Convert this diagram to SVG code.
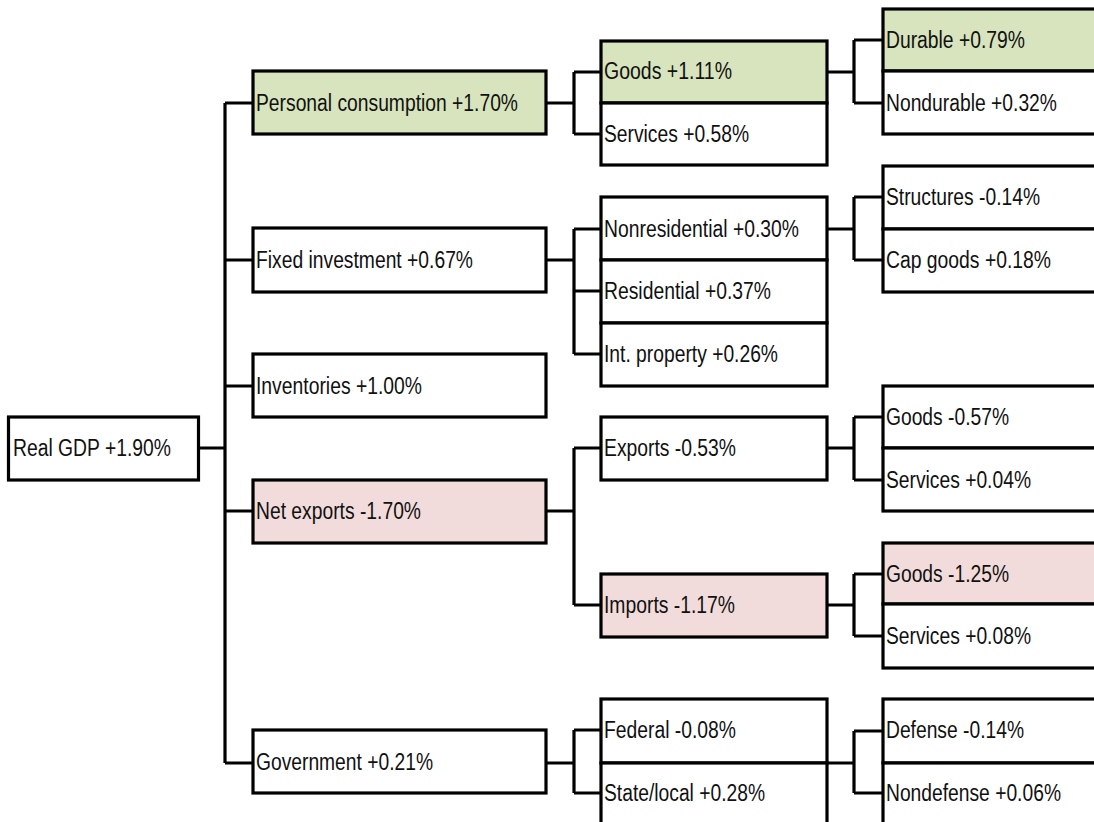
<svg xmlns="http://www.w3.org/2000/svg" width="1094" height="822" viewBox="0 0 1094 822">
<style>
.box{fill:#ffffff;stroke:#000;stroke-width:3.2}
.green{fill:#d7e4bd}
.pink{fill:#f2dcdb}
.lbl{font-family:"Liberation Sans",Arial,sans-serif;font-size:23px;fill:#111}
.con{fill:none;stroke:#000;stroke-width:3.2}
</style>
<rect x="0" y="0" width="1094" height="822" fill="#ffffff"/>
<g id="connectors" class="con">
<path d="M198,448 H225 M225,103 V763 M225,103 H253 M225,260 H253 M225,386 H253 M225,511 H253 M225,763 H253"/>
<path d="M546,103 H574 M574,72 V134 M574,72 H601 M574,134 H601"/>
<path d="M546,260 H574 M574,229 V354 M574,229 H601 M574,291 H601 M574,354 H601"/>
<path d="M546,511 H574 M574,448 V605 M574,448 H601 M574,605 H601"/>
<path d="M546,763 H574 M574,730 V793 M574,730 H601 M574,793 H601"/>
<path d="M827,72 H854 M854,40 V103 M854,40 H883 M854,103 H883"/>
<path d="M827,229 H854 M854,197 V260 M854,197 H883 M854,260 H883"/>
<path d="M827,448 H854 M854,417 V480 M854,417 H883 M854,480 H883"/>
<path d="M827,605 H854 M854,574 V636 M854,574 H883 M854,636 H883"/>
<path d="M827,763 H854 M854,731 V793 M854,731 H883 M854,793 H883"/>
</g>
<g id="n-gdp"><rect class="box" x="8.5" y="417" width="190" height="63"/><text class="lbl" x="13" y="456" textLength="158" lengthAdjust="spacingAndGlyphs">Real GDP +1.90%</text></g>
<g id="n-pc"><rect class="box green" x="253" y="71" width="293" height="63"/><text class="lbl" x="256" y="111" textLength="262" lengthAdjust="spacingAndGlyphs">Personal consumption +1.70%</text></g>
<g id="n-fi"><rect class="box" x="253" y="228" width="293" height="64"/><text class="lbl" x="256" y="268" textLength="217" lengthAdjust="spacingAndGlyphs">Fixed investment +0.67%</text></g>
<g id="n-inv"><rect class="box" x="253" y="354" width="293" height="63"/><text class="lbl" x="256" y="394" textLength="166" lengthAdjust="spacingAndGlyphs">Inventories +1.00%</text></g>
<g id="n-ne"><rect class="box pink" x="253" y="480" width="293" height="63"/><text class="lbl" x="256" y="519" textLength="165" lengthAdjust="spacingAndGlyphs">Net exports -1.70%</text></g>
<g id="n-gov"><rect class="box" x="253" y="730" width="293" height="63"/><text class="lbl" x="256" y="770" textLength="177" lengthAdjust="spacingAndGlyphs">Government +0.21%</text></g>
<g id="n-goods"><rect class="box green" x="601" y="41" width="226" height="62"/><text class="lbl" x="604" y="79" textLength="128" lengthAdjust="spacingAndGlyphs">Goods +1.11%</text></g>
<g id="n-services"><rect class="box" x="601" y="103" width="226" height="62"/><text class="lbl" x="604" y="142" textLength="145" lengthAdjust="spacingAndGlyphs">Services +0.58%</text></g>
<g id="n-nonres"><rect class="box" x="601" y="197" width="226" height="63"/><text class="lbl" x="604" y="237" textLength="195" lengthAdjust="spacingAndGlyphs">Nonresidential +0.30%</text></g>
<g id="n-res"><rect class="box" x="601" y="260" width="226" height="63"/><text class="lbl" x="604" y="299" textLength="167" lengthAdjust="spacingAndGlyphs">Residential +0.37%</text></g>
<g id="n-ip"><rect class="box" x="601" y="323" width="226" height="63"/><text class="lbl" x="604" y="362" textLength="174" lengthAdjust="spacingAndGlyphs">Int. property +0.26%</text></g>
<g id="n-exports"><rect class="box" x="601" y="417" width="226" height="63"/><text class="lbl" x="604" y="456" textLength="132" lengthAdjust="spacingAndGlyphs">Exports -0.53%</text></g>
<g id="n-imports"><rect class="box pink" x="601" y="574" width="226" height="63"/><text class="lbl" x="604" y="613" textLength="131" lengthAdjust="spacingAndGlyphs">Imports -1.17%</text></g>
<g id="n-federal"><rect class="box" x="601" y="699" width="226" height="64"/><text class="lbl" x="604" y="738" textLength="132" lengthAdjust="spacingAndGlyphs">Federal -0.08%</text></g>
<g id="n-state"><rect class="box" x="601" y="763" width="226" height="70"/><text class="lbl" x="604" y="801" textLength="161" lengthAdjust="spacingAndGlyphs">State/local +0.28%</text></g>
<g id="n-durable"><rect class="box green" x="883" y="9" width="230" height="62"/><text class="lbl" x="886" y="48" textLength="139" lengthAdjust="spacingAndGlyphs">Durable +0.79%</text></g>
<g id="n-nondurable"><rect class="box" x="883" y="71" width="230" height="63"/><text class="lbl" x="886" y="111" textLength="171" lengthAdjust="spacingAndGlyphs">Nondurable +0.32%</text></g>
<g id="n-structures"><rect class="box" x="883" y="166" width="230" height="63"/><text class="lbl" x="886" y="205" textLength="154" lengthAdjust="spacingAndGlyphs">Structures -0.14%</text></g>
<g id="n-capgoods"><rect class="box" x="883" y="229" width="230" height="63"/><text class="lbl" x="886" y="268" textLength="165" lengthAdjust="spacingAndGlyphs">Cap goods +0.18%</text></g>
<g id="n-xgoods"><rect class="box" x="883" y="386" width="230" height="62"/><text class="lbl" x="886" y="425" textLength="123" lengthAdjust="spacingAndGlyphs">Goods -0.57%</text></g>
<g id="n-xservices"><rect class="box" x="883" y="448" width="230" height="63"/><text class="lbl" x="886" y="488" textLength="145" lengthAdjust="spacingAndGlyphs">Services +0.04%</text></g>
<g id="n-mgoods"><rect class="box pink" x="883" y="543" width="230" height="61"/><text class="lbl" x="886" y="582" textLength="123" lengthAdjust="spacingAndGlyphs">Goods -1.25%</text></g>
<g id="n-mservices"><rect class="box" x="883" y="604" width="230" height="64"/><text class="lbl" x="886" y="644" textLength="145" lengthAdjust="spacingAndGlyphs">Services +0.08%</text></g>
<g id="n-defense"><rect class="box" x="883" y="699" width="230" height="64"/><text class="lbl" x="886" y="738" textLength="138" lengthAdjust="spacingAndGlyphs">Defense -0.14%</text></g>
<g id="n-nondefense"><rect class="box" x="883" y="763" width="230" height="70"/><text class="lbl" x="886" y="801" textLength="175" lengthAdjust="spacingAndGlyphs">Nondefense +0.06%</text></g>
</svg>
